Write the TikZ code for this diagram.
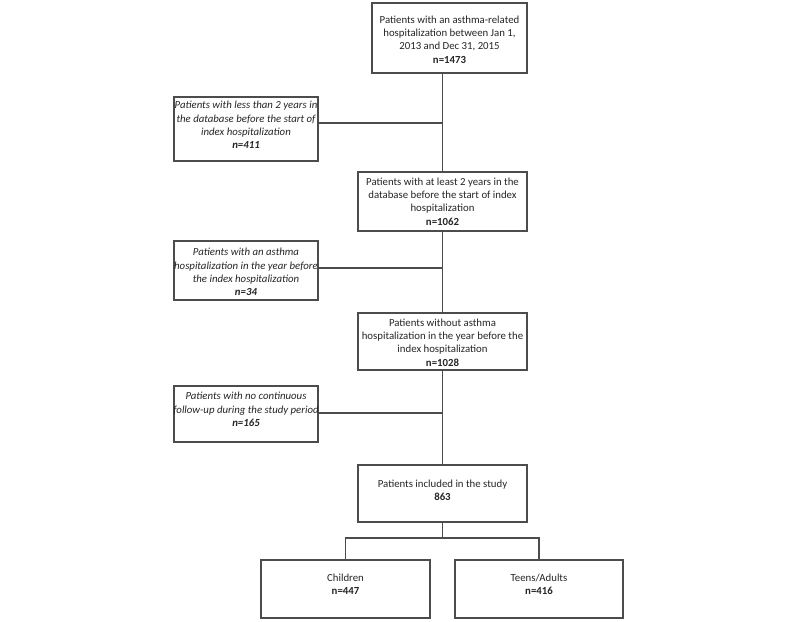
\documentclass[tikz,border=0pt]{standalone}
\usepackage{fontspec}
\setmainfont{Carlito}
\begin{document}
\begin{tikzpicture}[x=1pt,y=-1pt,
  box/.style={draw=black!70, line width=1.1pt, fill=white, inner sep=0pt, outer sep=0pt},
  txt/.style={align=center, font=\fontsize{10.8}{13.4}\selectfont, text=black!85, inner sep=0pt},
  link/.style={draw=black!70, line width=1.1pt}]
\useasboundingbox (0,0) rectangle (800,621);
\fill[white] (0,0) rectangle (800,621);

% boxes
\node[box, minimum width=155pt, minimum height=70pt] (top) at (449.5,38) {};
\node[box, minimum width=144pt, minimum height=64pt] (left1) at (246,129) {};
\node[box, minimum width=169pt, minimum height=59pt] (box2) at (442.5,201.5) {};
\node[box, minimum width=144pt, minimum height=59pt] (left2) at (246,270.5) {};
\node[box, minimum width=169pt, minimum height=57pt] (box3) at (442.5,341.5) {};
\node[box, minimum width=144pt, minimum height=56pt] (left3) at (246,414) {};
\node[box, minimum width=169pt, minimum height=57pt] (box4) at (442.5,493.5) {};
\node[box, minimum width=169pt, minimum height=58pt] (children) at (345.5,589) {};
\node[box, minimum width=168pt, minimum height=58pt] (teens) at (539,589) {};

% texts
\node[txt] (ttop) at (449.5,39.5) {Patients with an asthma-related\\hospitalization between Jan 1,\\2013 and Dec 31, 2015\\\textbf{n=1473}};
\node[txt] (tleft1) at (246,125) {\itshape Patients with less than 2 years in\\\itshape the database before the start of\\\itshape index hospitalization\\\itshape\bfseries n=411};
\node[txt] (tbox2) at (442.5,201.5) {Patients with at least 2 years in the\\database before the start of index\\hospitalization\\\textbf{n=1062}};
\node[txt] (tleft2) at (246,272) {\itshape Patients with an asthma\\\itshape hospitalization in the year before\\\itshape the index hospitalization\\\itshape\bfseries n=34};
\node[txt] (tbox3) at (442.5,342.5) {Patients without asthma\\hospitalization in the year before the\\index hospitalization\\\textbf{n=1028}};
\node[txt] (tleft3) at (246,409.5) {\itshape Patients with no continuous\\\itshape follow-up during the study period\\\itshape\bfseries n=165};
\node[txt] (tbox4) at (442.5,490) {Patients included in the study\\\textbf{863}};
\node[txt] (tchildren) at (345.5,584.5) {Children\\\textbf{n=447}};
\node[txt] (tteens) at (539,584.5) {Teens/Adults\\\textbf{n=416}};

% connectors
\draw[link] (top.south -| box2.north) -- (box2.north);
\draw[link] (box2.south) -- (box3.north);
\draw[link] (box3.south) -- (box4.north);
\coordinate (j1) at (442.5,123);
\coordinate (j2) at (442.5,268);
\coordinate (j3) at (442.5,413);
\draw[link] (left1.east |- j1) -- (j1);
\draw[link] (left2.east |- j2) -- (j2);
\draw[link] (left3.east |- j3) -- (j3);
\coordinate (split) at (442.5,538);
\draw[link] (box4.south) -- (split);
\draw[link] (children.north) -- (children.north |- split) -- (teens.north |- split) -- (teens.north);
\end{tikzpicture}
\end{document}
